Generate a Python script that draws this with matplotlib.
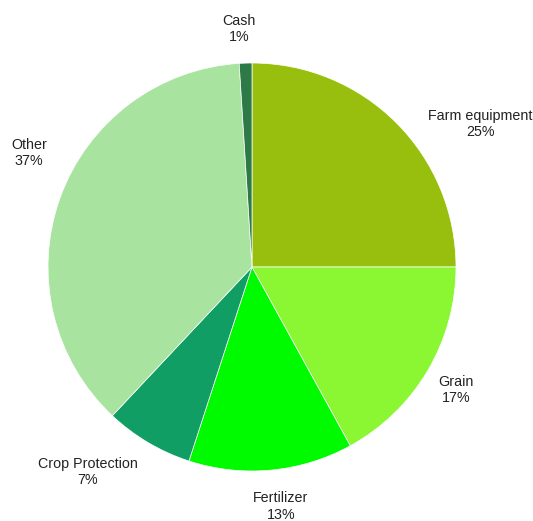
import numpy as np
import matplotlib.pyplot as plt

plt.rcParams['font.family'] = ['Liberation Sans', 'DejaVu Sans']

labels = ["Farm equipment", "Grain", "Fertilizer", "Crop Protection", "Other", "Cash"]
shares = [25, 17, 13, 7, 37, 1]
colors = ["#99bf0e", "#8bf733", "#00fb00", "#119e64", "#a9e3a0", "#2d7a46"]

# where each label sits, in units of the pie radius (layout only)
label_pos = [(1.118, 0.701), (1.000, -0.603), (0.142, -1.174),
             (-0.804, -1.005), (-1.093, 0.559), (-0.064, 1.167)]

fig = plt.figure(figsize=(5.33, 5.21), dpi=100, facecolor="#ffffff")
ax = fig.add_axes([0, 0, 1, 1])

wedges, _ = ax.pie(shares, colors=colors, startangle=90, counterclock=False,
                   radius=1, wedgeprops=dict(edgecolor="#ffffff", linewidth=0.5))

for lab, s, (x, y) in zip(labels, shares, label_pos):
    ax.text(x, y, f"{lab}\n{s}%", ha="center", va="center",
            fontsize=10.3, color="#222222", linespacing=1.2)

ax.set_aspect("auto")
ax.set_xlim(-252 / 204, (533 - 252) / 204)
ax.set_ylim(-254 / 204, (521 - 254) / 204)
ax.axis("off")

fig.savefig("out.png", dpi=100, facecolor="#ffffff")
